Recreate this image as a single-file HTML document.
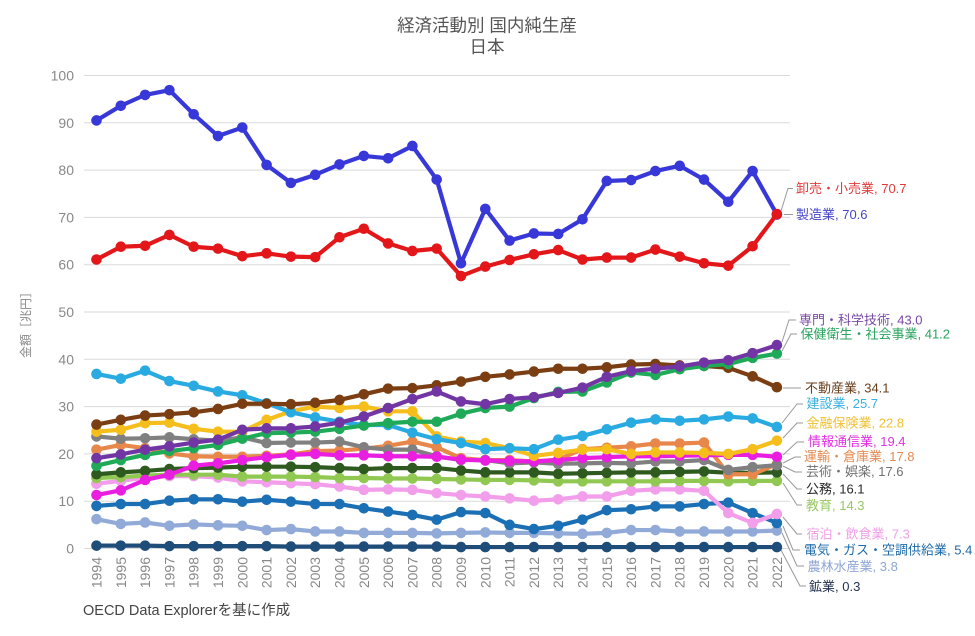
<!DOCTYPE html>
<html lang="ja">
<head>
<meta charset="utf-8">
<style>
html,body{margin:0;padding:0;background:#fff;}
svg{display:block;}
text{font-family:"Liberation Sans","Noto Sans CJK JP",sans-serif;}
</style>
</head>
<body>
<svg width="975" height="636" viewBox="0 0 975 636" xmlns="http://www.w3.org/2000/svg">
<defs>
<marker id="mM" markerUnits="userSpaceOnUse" markerWidth="1" markerHeight="3" refX="0" refY="0" style="overflow:visible"><ellipse rx="0.218" ry="1.12" fill="#3838d8"/></marker>
<marker id="mW" markerUnits="userSpaceOnUse" markerWidth="1" markerHeight="3" refX="0" refY="0" style="overflow:visible"><ellipse rx="0.218" ry="1.12" fill="#e3161a"/></marker>
<marker id="mP" markerUnits="userSpaceOnUse" markerWidth="1" markerHeight="3" refX="0" refY="0" style="overflow:visible"><ellipse rx="0.218" ry="1.12" fill="#7236a4"/></marker>
<marker id="mH" markerUnits="userSpaceOnUse" markerWidth="1" markerHeight="3" refX="0" refY="0" style="overflow:visible"><ellipse rx="0.218" ry="1.12" fill="#1faa58"/></marker>
<marker id="mR" markerUnits="userSpaceOnUse" markerWidth="1" markerHeight="3" refX="0" refY="0" style="overflow:visible"><ellipse rx="0.218" ry="1.12" fill="#7a3e12"/></marker>
<marker id="mC" markerUnits="userSpaceOnUse" markerWidth="1" markerHeight="3" refX="0" refY="0" style="overflow:visible"><ellipse rx="0.218" ry="1.12" fill="#29abe2"/></marker>
<marker id="mF" markerUnits="userSpaceOnUse" markerWidth="1" markerHeight="3" refX="0" refY="0" style="overflow:visible"><ellipse rx="0.218" ry="1.12" fill="#f6be1c"/></marker>
<marker id="mI" markerUnits="userSpaceOnUse" markerWidth="1" markerHeight="3" refX="0" refY="0" style="overflow:visible"><ellipse rx="0.218" ry="1.12" fill="#e91ee0"/></marker>
<marker id="mT" markerUnits="userSpaceOnUse" markerWidth="1" markerHeight="3" refX="0" refY="0" style="overflow:visible"><ellipse rx="0.218" ry="1.12" fill="#e8874a"/></marker>
<marker id="mA" markerUnits="userSpaceOnUse" markerWidth="1" markerHeight="3" refX="0" refY="0" style="overflow:visible"><ellipse rx="0.218" ry="1.12" fill="#808080"/></marker>
<marker id="mG" markerUnits="userSpaceOnUse" markerWidth="1" markerHeight="3" refX="0" refY="0" style="overflow:visible"><ellipse rx="0.218" ry="1.12" fill="#2f5a1f"/></marker>
<marker id="mE" markerUnits="userSpaceOnUse" markerWidth="1" markerHeight="3" refX="0" refY="0" style="overflow:visible"><ellipse rx="0.218" ry="1.12" fill="#90c852"/></marker>
<marker id="mK" markerUnits="userSpaceOnUse" markerWidth="1" markerHeight="3" refX="0" refY="0" style="overflow:visible"><ellipse rx="0.218" ry="1.12" fill="#f29eea"/></marker>
<marker id="mL" markerUnits="userSpaceOnUse" markerWidth="1" markerHeight="3" refX="0" refY="0" style="overflow:visible"><ellipse rx="0.218" ry="1.12" fill="#1b6fb5"/></marker>
<marker id="mN" markerUnits="userSpaceOnUse" markerWidth="1" markerHeight="3" refX="0" refY="0" style="overflow:visible"><ellipse rx="0.218" ry="1.12" fill="#91aad8"/></marker>
<marker id="mX" markerUnits="userSpaceOnUse" markerWidth="1" markerHeight="3" refX="0" refY="0" style="overflow:visible"><ellipse rx="0.218" ry="1.12" fill="#1f4d7a"/></marker>
</defs>

<!-- Title -->
<text x="487" y="31.5" text-anchor="middle" font-size="17.5" fill="#555">経済活動別 国内純生産</text>
<text x="487" y="53" text-anchor="middle" font-size="17.5" fill="#555">日本</text>

<!-- Gridlines -->
<g stroke="#dadada" stroke-width="1">
<line x1="84" y1="75.5" x2="790" y2="75.5"/>
<line x1="84" y1="122.8" x2="790" y2="122.8"/>
<line x1="84" y1="170.1" x2="790" y2="170.1"/>
<line x1="84" y1="217.4" x2="790" y2="217.4"/>
<line x1="84" y1="264.7" x2="790" y2="264.7"/>
<line x1="84" y1="312" x2="790" y2="312"/>
<line x1="84" y1="359.3" x2="790" y2="359.3"/>
<line x1="84" y1="406.6" x2="790" y2="406.6"/>
<line x1="84" y1="453.9" x2="790" y2="453.9"/>
<line x1="84" y1="501.2" x2="790" y2="501.2"/>
<line x1="84" y1="548.5" x2="790" y2="548.5"/>
</g>

<!-- Y tick labels -->
<g font-size="14" fill="#888" text-anchor="end">
<text x="74" y="80.5">100</text>
<text x="74" y="127.8">90</text>
<text x="74" y="175.1">80</text>
<text x="74" y="222.4">70</text>
<text x="74" y="269.7">60</text>
<text x="74" y="317">50</text>
<text x="74" y="364.3">40</text>
<text x="74" y="411.6">30</text>
<text x="74" y="458.9">20</text>
<text x="74" y="506.2">10</text>
<text x="74" y="553.5">0</text>
</g>

<!-- Y axis title -->
<text transform="translate(30,322) rotate(-90)" text-anchor="middle" font-size="12" fill="#888">金額［兆円］</text>

<!-- X tick labels -->
<g font-size="14" fill="#888" text-anchor="end">
<text transform="translate(101.5,557) rotate(-90)">1994</text>
<text transform="translate(125.8,557) rotate(-90)">1995</text>
<text transform="translate(150.1,557) rotate(-90)">1996</text>
<text transform="translate(174.4,557) rotate(-90)">1997</text>
<text transform="translate(198.7,557) rotate(-90)">1998</text>
<text transform="translate(223,557) rotate(-90)">1999</text>
<text transform="translate(247.3,557) rotate(-90)">2000</text>
<text transform="translate(271.6,557) rotate(-90)">2001</text>
<text transform="translate(295.9,557) rotate(-90)">2002</text>
<text transform="translate(320.2,557) rotate(-90)">2003</text>
<text transform="translate(344.5,557) rotate(-90)">2004</text>
<text transform="translate(368.8,557) rotate(-90)">2005</text>
<text transform="translate(393.1,557) rotate(-90)">2006</text>
<text transform="translate(417.4,557) rotate(-90)">2007</text>
<text transform="translate(441.7,557) rotate(-90)">2008</text>
<text transform="translate(466,557) rotate(-90)">2009</text>
<text transform="translate(490.3,557) rotate(-90)">2010</text>
<text transform="translate(514.6,557) rotate(-90)">2011</text>
<text transform="translate(538.9,557) rotate(-90)">2012</text>
<text transform="translate(563.2,557) rotate(-90)">2013</text>
<text transform="translate(587.5,557) rotate(-90)">2014</text>
<text transform="translate(611.8,557) rotate(-90)">2015</text>
<text transform="translate(636.1,557) rotate(-90)">2016</text>
<text transform="translate(660.4,557) rotate(-90)">2017</text>
<text transform="translate(684.7,557) rotate(-90)">2018</text>
<text transform="translate(709,557) rotate(-90)">2019</text>
<text transform="translate(733.3,557) rotate(-90)">2020</text>
<text transform="translate(757.6,557) rotate(-90)">2021</text>
<text transform="translate(781.9,557) rotate(-90)">2022</text>
</g>

<!-- Leader lines -->
<g fill="none" stroke="#999" stroke-width="1">
<polyline points="781,211 788,188.5 793,188.5"/>
<polyline points="784,214.5 793,214.5"/>
<polyline points="782,342 789,320 796,320"/>
<polyline points="782,351 791,334 797,334"/>
<polyline points="783,388 801,388"/>
<polyline points="782,423 797,404 803,404"/>
<polyline points="783,438 797,423 803,423"/>
<polyline points="783,455 797,442 804,442"/>
<polyline points="783,463 795,457 801,457"/>
<polyline points="783,466 795,472 802,472"/>
<polyline points="783,474 797,489 802,489"/>
<polyline points="783,483 797,505 802,505"/>
<polyline points="783,517 797,534 802,534"/>
<polyline points="783,526 793,550 800,550"/>
<polyline points="782,533 797,566 804,566"/>
<polyline points="781,550 800,586 806,586"/>
</g>

<!-- Series -->
<g transform="translate(96.5 548.5) scale(24.3 -4.73)" fill="none" stroke-width="4.2" stroke-linejoin="round" stroke-linecap="round">
<polyline vector-effect="non-scaling-stroke" stroke="#1f4d7a" marker-start="url(#mX)" marker-mid="url(#mX)" marker-end="url(#mX)" points="0,0.6 1,0.6 2,0.6 3,0.5 4,0.5 5,0.5 6,0.5 7,0.5 8,0.4 9,0.4 10,0.4 11,0.4 12,0.4 13,0.4 14,0.4 15,0.3 16,0.3 17,0.3 18,0.3 19,0.3 20,0.3 21,0.3 22,0.3 23,0.3 24,0.3 25,0.3 26,0.3 27,0.3 28,0.3"/>
<polyline vector-effect="non-scaling-stroke" stroke="#91aad8" marker-start="url(#mN)" marker-mid="url(#mN)" marker-end="url(#mN)" points="0,6.2 1,5.2 2,5.5 3,4.8 4,5.1 5,4.9 6,4.8 7,3.9 8,4.1 9,3.6 10,3.6 11,3.3 12,3.3 13,3.3 14,3.2 15,3.3 16,3.4 17,3.3 18,3.3 19,3.2 20,3.1 21,3.3 22,3.9 23,3.9 24,3.6 25,3.6 26,3.6 27,3.6 28,3.8"/>
<polyline vector-effect="non-scaling-stroke" stroke="#1b6fb5" marker-start="url(#mL)" marker-mid="url(#mL)" marker-end="url(#mL)" points="0,9 1,9.4 2,9.4 3,10.1 4,10.4 5,10.4 6,9.9 7,10.3 8,9.9 9,9.4 10,9.4 11,8.5 12,7.8 13,7.1 14,6.1 15,7.7 16,7.5 17,5 18,4.1 19,4.8 20,6.1 21,8.1 22,8.3 23,8.9 24,8.9 25,9.4 26,9.7 27,7.5 28,5.4"/>
<polyline vector-effect="non-scaling-stroke" stroke="#f29eea" marker-start="url(#mK)" marker-mid="url(#mK)" marker-end="url(#mK)" points="0,13.7 1,14.3 2,15 3,15.3 4,15.3 5,15 6,14.2 7,14 8,13.8 9,13.6 10,13.1 11,12.4 12,12.5 13,12.4 14,11.7 15,11.3 16,11 17,10.6 18,10.1 19,10.4 20,11 21,11 22,12.2 23,12.5 24,12.5 25,12.2 26,7.5 27,5.4 28,7.3"/>
<polyline vector-effect="non-scaling-stroke" stroke="#90c852" marker-start="url(#mE)" marker-mid="url(#mE)" marker-end="url(#mE)" points="0,14.9 1,15.1 2,15.4 3,15.6 4,15.6 5,15.6 6,15.2 7,15.2 8,15.2 9,15.1 10,14.9 11,14.9 12,14.8 13,14.8 14,14.7 15,14.6 16,14.5 17,14.5 18,14.4 19,14.2 20,14.2 21,14.2 22,14.2 23,14.2 24,14.3 25,14.3 26,14.2 27,14.3 28,14.3"/>
<polyline vector-effect="non-scaling-stroke" stroke="#2f5a1f" marker-start="url(#mG)" marker-mid="url(#mG)" marker-end="url(#mG)" points="0,15.7 1,16.1 2,16.4 3,16.8 4,17 5,17.1 6,17.3 7,17.3 8,17.3 9,17.2 10,17 11,16.8 12,17 13,17 14,17 15,16.5 16,16.1 17,16.1 18,16.1 19,15.8 20,15.9 21,16 22,16.1 23,16.1 24,16.2 25,16.3 26,16 27,16 28,16.1"/>
<polyline vector-effect="non-scaling-stroke" stroke="#e8874a" marker-start="url(#mT)" marker-mid="url(#mT)" marker-end="url(#mT)" points="0,20.9 1,21.9 2,21.2 3,20.1 4,19.5 5,19.4 6,19.4 7,19.6 8,19.9 9,20.6 10,20.7 11,21.1 12,21.7 13,22.6 14,21.4 15,19.1 16,18.7 17,18.7 18,18.4 19,18.8 20,21 21,21.3 22,21.6 23,22.2 24,22.2 25,22.4 26,15.7 27,15.7 28,17.8"/>
<polyline vector-effect="non-scaling-stroke" stroke="#808080" marker-start="url(#mA)" marker-mid="url(#mA)" marker-end="url(#mA)" points="0,23.7 1,23.2 2,23.3 3,23.5 4,23.1 5,22.8 6,23.5 7,22.3 8,22.4 9,22.4 10,22.6 11,21.4 12,20.9 13,20.9 14,19.5 15,18.7 16,18.7 17,18 18,18.2 19,17.9 20,18 21,18.1 22,18 23,18.4 24,18.4 25,18.7 26,16.6 27,17.2 28,17.6"/>
<polyline vector-effect="non-scaling-stroke" stroke="#e91ee0" marker-start="url(#mI)" marker-mid="url(#mI)" marker-end="url(#mI)" points="0,11.3 1,12.3 2,14.5 3,15.6 4,17.5 5,18 6,18.7 7,19.3 8,19.8 9,20 10,19.7 11,19.7 12,19.5 13,19.5 14,19.4 15,18.8 16,18.6 17,18.5 18,18.4 19,18.7 20,19.1 21,19.3 22,19.5 23,19.5 24,19.6 25,19.7 26,19.8 27,19.8 28,19.4"/>
<polyline vector-effect="non-scaling-stroke" stroke="#f6be1c" marker-start="url(#mF)" marker-mid="url(#mF)" marker-end="url(#mF)" points="0,24.7 1,25.1 2,26.5 3,26.6 4,25.3 5,24.7 6,24.7 7,27.2 8,29 9,30 10,29.7 11,30 12,29 13,29 14,23.7 15,22.6 16,22.3 17,21.2 18,19.6 19,20.2 20,20.9 21,21 22,20 23,20.3 24,20.3 25,20.2 26,20 27,21 28,22.8"/>
<polyline vector-effect="non-scaling-stroke" stroke="#29abe2" marker-start="url(#mC)" marker-mid="url(#mC)" marker-end="url(#mC)" points="0,36.9 1,35.9 2,37.6 3,35.4 4,34.4 5,33.2 6,32.4 7,30.7 8,28.8 9,27.7 10,26.8 11,26.1 12,26.1 13,24.5 14,23.1 15,22.3 16,21 17,21.2 18,21 19,23 20,23.8 21,25.2 22,26.6 23,27.3 24,27 25,27.3 26,27.9 27,27.5 28,25.7"/>
<polyline vector-effect="non-scaling-stroke" stroke="#7a3e12" marker-start="url(#mR)" marker-mid="url(#mR)" marker-end="url(#mR)" points="0,26.2 1,27.2 2,28.1 3,28.4 4,28.8 5,29.5 6,30.6 7,30.6 8,30.5 9,30.8 10,31.4 11,32.6 12,33.8 13,33.9 14,34.5 15,35.3 16,36.3 17,36.8 18,37.4 19,38 20,38 21,38.3 22,38.9 23,39 24,38.7 25,38.6 26,38.2 27,36.4 28,34.1"/>
<polyline vector-effect="non-scaling-stroke" stroke="#1faa58" marker-start="url(#mH)" marker-mid="url(#mH)" marker-end="url(#mH)" points="0,17.5 1,18.7 2,19.8 3,20.6 4,21.2 5,21.9 6,23.2 7,24.4 8,24.5 9,24.7 10,25.3 11,26 12,26.5 13,26.8 14,26.8 15,28.5 16,29.7 17,30 18,31.8 19,33.1 20,33.2 21,35.1 22,37.2 23,36.7 24,37.9 25,38.6 26,39 27,40.3 28,41.2"/>
<polyline vector-effect="non-scaling-stroke" stroke="#7236a4" marker-start="url(#mP)" marker-mid="url(#mP)" marker-end="url(#mP)" points="0,19.1 1,19.9 2,20.9 3,21.6 4,22.4 5,23 6,25.1 7,25.4 8,25.4 9,25.8 10,26.6 11,27.9 12,29.7 13,31.6 14,33.2 15,31.1 16,30.5 17,31.6 18,32 19,32.9 20,34 21,36.3 22,37.5 23,38 24,38.5 25,39.3 26,39.8 27,41.3 28,43"/>
<polyline vector-effect="non-scaling-stroke" stroke="#3838d8" marker-start="url(#mM)" marker-mid="url(#mM)" marker-end="url(#mM)" points="0,90.5 1,93.6 2,95.9 3,96.9 4,91.8 5,87.2 6,89 7,81.1 8,77.3 9,79 10,81.2 11,83 12,82.5 13,85.1 14,78 15,60.3 16,71.8 17,65.1 18,66.6 19,66.5 20,69.6 21,77.7 22,77.9 23,79.8 24,80.9 25,78 26,73.3 27,79.8 28,70.6"/>
<polyline vector-effect="non-scaling-stroke" stroke="#e3161a" marker-start="url(#mW)" marker-mid="url(#mW)" marker-end="url(#mW)" points="0,61.1 1,63.8 2,64 3,66.3 4,63.8 5,63.4 6,61.8 7,62.4 8,61.7 9,61.6 10,65.8 11,67.6 12,64.5 13,62.9 14,63.4 15,57.6 16,59.6 17,61 18,62.2 19,63.1 20,61.1 21,61.5 22,61.5 23,63.2 24,61.7 25,60.3 26,59.8 27,63.9 28,70.7"/>
</g>

<!-- End labels -->
<g font-size="13">
<text x="796" y="193" fill="#e03a3a">卸売・小売業, 70.7</text>
<text x="796" y="219" fill="#4646c8">製造業, 70.6</text>
<text x="799" y="324.5" fill="#7848a4">専門・科学技術, 43.0</text>
<text x="800.5" y="338.5" fill="#2aa45e">保健衛生・社会事業, 41.2</text>
<text x="805" y="392.5" fill="#6a3e1c">不動産業, 34.1</text>
<text x="806.5" y="408" fill="#3ab0e2">建設業, 25.7</text>
<text x="806.5" y="427.5" fill="#f0c030">金融保険業, 22.8</text>
<text x="808" y="446" fill="#e030e0">情報通信業, 19.4</text>
<text x="804" y="461" fill="#e48a52">運輸・倉庫業, 17.8</text>
<text x="806" y="476" fill="#707070">芸術・娯楽, 17.6</text>
<text x="806" y="493.5" fill="#2a2a2a">公務, 16.1</text>
<text x="806" y="510" fill="#98c862">教育, 14.3</text>
<text x="806.5" y="538.5" fill="#f09ee8">宿泊・飲食業, 7.3</text>
<text x="804" y="554.5" fill="#1e6aaa">電気・ガス・空調供給業, 5.4</text>
<text x="807.5" y="571" fill="#8ea6d6">農林水産業, 3.8</text>
<text x="809" y="591" fill="#1f3050">鉱業, 0.3</text>
</g>

<!-- Source -->
<text x="83" y="615" font-size="14.5" fill="#444">OECD Data Explorerを基に作成</text>
</svg>
</body>
</html>
